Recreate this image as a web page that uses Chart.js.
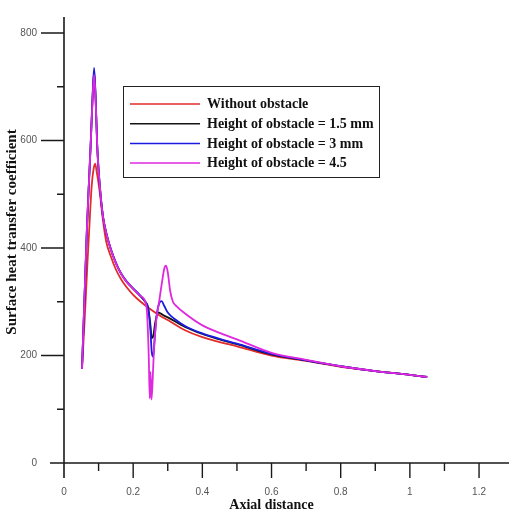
<!DOCTYPE html>
<html>
<head>
<meta charset="utf-8">
<script src="https://cdn.jsdelivr.net/npm/chart.js@4.4.1/dist/chart.umd.min.js"></script>
<style>
  html, body { margin: 0; padding: 0; background: #fff; }
  #wrap { width: 509px; height: 513px; }
</style>
</head>
<body>
<div id="wrap"><canvas id="chart" width="509" height="513"></canvas></div>
<script>
// series labels
const seriesNames = ['Without obstacle', 'Height of obstacle = 1.5 mm', 'Height of obstacle = 3 mm', 'Height of obstacle = 4.5'];

// without obstacle
const redX = [0.052, 0.06, 0.068, 0.075, 0.08, 0.085, 0.09, 0.095, 0.1, 0.105, 0.112, 0.122, 0.135, 0.15, 0.165, 0.18, 0.2, 0.22, 0.25, 0.28, 0.3, 0.35, 0.4, 0.45, 0.5, 0.6, 0.7, 0.8, 0.9, 1.0, 1.05];
const redY = [175, 270, 375, 460, 515, 545, 557, 540, 520, 495, 455, 412, 385, 360, 342, 328, 313, 301, 286, 273, 266, 247, 234, 225, 217, 200, 190, 179, 171, 164, 160];

// 1.5 mm
const blackX = [0.052, 0.06, 0.066, 0.071, 0.077, 0.082, 0.087, 0.091, 0.096, 0.1, 0.106, 0.113, 0.122, 0.135, 0.15, 0.165, 0.18, 0.2, 0.22, 0.235, 0.243, 0.249, 0.254, 0.258, 0.264, 0.272, 0.28, 0.29, 0.3, 0.35, 0.4, 0.45, 0.5, 0.6, 0.7, 0.8, 0.9, 1.0, 1.05];
const blackY = [175, 320, 430, 505, 590, 670, 728, 685, 590, 545, 497, 457, 428, 398, 372, 352, 338, 324, 311, 300, 290, 262, 232, 236, 262, 280, 278, 274, 271, 253, 240, 230, 221, 202, 191, 180, 171, 164, 160];

// 3 mm
const blueX = [0.052, 0.06, 0.066, 0.071, 0.077, 0.082, 0.087, 0.091, 0.096, 0.1, 0.106, 0.113, 0.122, 0.135, 0.15, 0.165, 0.18, 0.2, 0.22, 0.235, 0.243, 0.249, 0.254, 0.258, 0.262, 0.268, 0.276, 0.282, 0.29, 0.3, 0.32, 0.35, 0.4, 0.45, 0.5, 0.6, 0.7, 0.8, 0.9, 1.0, 1.05];
const blueY = [175, 322, 432, 507, 592, 673, 735, 688, 592, 546, 498, 458, 429, 399, 373, 353, 339, 325, 312, 300, 288, 255, 205, 198, 230, 275, 298, 301, 292, 280, 268, 255, 241, 231, 222, 203, 191, 180, 171, 164, 160];

// 4.5
const magX = [0.052, 0.06, 0.066, 0.071, 0.077, 0.082, 0.087, 0.091, 0.096, 0.1, 0.106, 0.113, 0.122, 0.135, 0.15, 0.165, 0.18, 0.2, 0.22, 0.235, 0.24, 0.245, 0.248, 0.25, 0.253, 0.256, 0.26, 0.266, 0.275, 0.283, 0.29, 0.295, 0.3, 0.307, 0.315, 0.325, 0.35, 0.4, 0.45, 0.5, 0.6, 0.7, 0.8, 0.9, 1.0, 1.05];
const magY = [175, 322, 432, 507, 590, 668, 722, 684, 590, 545, 497, 457, 428, 398, 372, 352, 338, 324, 311, 300, 280, 200, 120, 170, 118, 150, 210, 262, 300, 335, 362, 367, 355, 320, 300, 292, 278, 256, 242, 230, 205, 192, 180, 171, 164, 160];

const colors = ['#e32b2b', '#141414', '#1a1ae0', '#e028e0'];

function pts(xs, ys) {
  return xs.map((x, i) => ({ x: x, y: ys[i] }));
}

// axes, ticks, titles and legend box
const decorations = {
  id: 'decorations',
  afterDraw(chart) {
    const c = chart.ctx;
    const xs = chart.scales.x;
    const ys = chart.scales.y;
    const x0 = xs.getPixelForValue(0);
    const y0 = ys.getPixelForValue(0);
    c.save();
    c.strokeStyle = '#1a1a1a';
    c.lineWidth = 1.6;
    c.beginPath();
    c.moveTo(x0, 17); c.lineTo(x0, 478);
    c.moveTo(50, y0); c.lineTo(509, y0);
    c.stroke();
    c.lineWidth = 1.4;
    c.beginPath();
    for (let v = 100; v <= 800; v += 100) {
      const py = ys.getPixelForValue(v);
      const len = v % 200 === 0 ? 23 : 7;
      c.moveTo(x0 - len, py); c.lineTo(x0, py);
    }
    for (let i = 1; i <= 12; i++) {
      const px = xs.getPixelForValue(i / 10);
      const len = i % 2 === 0 ? 15 : 8;
      c.moveTo(px, y0); c.lineTo(px, y0 + len);
    }
    c.stroke();

    // titles
    c.fillStyle = '#111';
    c.font = 'bold 14px "Liberation Serif", "Times New Roman", serif';
    c.textAlign = 'center';
    c.textBaseline = 'middle';
    c.fillText('Axial distance', (xs.left + xs.right) / 2, 505);
    c.save();
    c.translate(12, 232);
    c.rotate(-Math.PI / 2);
    c.font = 'bold 15px "Liberation Serif", "Times New Roman", serif';
    c.fillText('Surface heat transfer coefficient', 0, 0);
    c.restore();

    // legend
    c.lineWidth = 1;
    c.strokeStyle = '#222';
    c.strokeRect(123.5, 86.5, 256, 91);
    c.font = 'bold 14px "Liberation Serif", "Times New Roman", serif';
    c.textAlign = 'left';
    chart.data.datasets.forEach((ds, i) => {
      const ry = 104 + i * 19.7;
      c.strokeStyle = ds.borderColor;
      c.lineWidth = 1.5;
      c.beginPath();
      c.moveTo(130, ry); c.lineTo(200, ry);
      c.stroke();
      c.fillStyle = '#111';
      c.fillText(ds.label, 207, ry + 0.5);
    });
    c.restore();
  }
};

new Chart(document.getElementById('chart'), {
  type: 'line',
  data: {
    datasets: [
      { label: seriesNames[0], data: pts(redX, redY), borderColor: colors[0], order: 4 },
      { label: seriesNames[1], data: pts(blackX, blackY), borderColor: colors[1], order: 3 },
      { label: seriesNames[2], data: pts(blueX, blueY), borderColor: colors[2], order: 2 },
      { label: seriesNames[3], data: pts(magX, magY), borderColor: colors[3], order: 1 },
    ],
  },
  options: {
    responsive: false,
    animation: false,
    devicePixelRatio: 1,
    layout: { padding: { top: 24, right: 7, left: 0, bottom: 0 } },
    elements: {
      point: { radius: 0 },
      line: { borderWidth: 1.8, cubicInterpolationMode: 'monotone', fill: false },
    },
    plugins: {
      legend: { display: false },
      tooltip: { enabled: false },
    },
    scales: {
      x: {
        type: 'linear',
        min: 0,
        max: 1.2,
        afterFit: (s) => { s.height = 50; },
        grid: { display: false, drawTicks: false },
        border: { display: false },
        ticks: {
          stepSize: 0.1,
          padding: 23,
          maxRotation: 0,
          autoSkip: false,
          color: '#555',
          font: { family: '"Liberation Sans", Arial, sans-serif', size: 10 },
          callback: (v) => {
            const k = Math.round(v * 10);
            return k % 2 === 0 ? String(k / 10) : '';
          },
        },
      },
      y: {
        min: 0,
        max: 800,
        afterFit: (s) => { s.width = 64; },
        grid: { display: false, drawTicks: false },
        border: { display: false },
        ticks: {
          stepSize: 100,
          padding: 27,
          autoSkip: false,
          color: '#555',
          font: { family: '"Liberation Sans", Arial, sans-serif', size: 10 },
          callback: (v) => (v % 200 === 0 ? String(v) : ''),
        },
      },
    },
  },
  plugins: [decorations],
});
</script>
</body>
</html>
